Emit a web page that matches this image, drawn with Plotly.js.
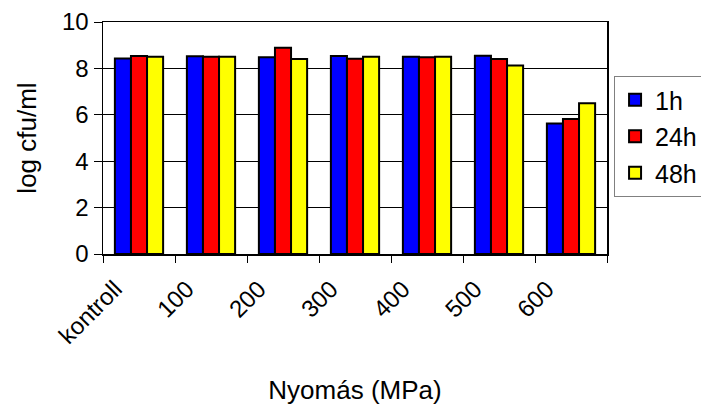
<!DOCTYPE html>
<html>
<head>
<meta charset="utf-8">
<script src="https://cdn.plot.ly/plotly-3.0.1.min.js"></script>
<style>html,body{margin:0;padding:0;background:#fff;}#chart{width:701px;height:405px;}</style>
</head>
<body>
<div id="chart"></div>
<script>
const categories = ["kontroll", "100", "200", "300", "400", "500", "600"];
const seriesNames = ["1h", "24h", "48h"];
const values1h  = [8.43, 8.52, 8.48, 8.53, 8.50, 8.55, 5.62];
const values24h = [8.53, 8.50, 8.89, 8.42, 8.48, 8.40, 5.82];
const values48h = [8.50, 8.50, 8.40, 8.50, 8.50, 8.12, 6.50];
const yTicks = [0, 2, 4, 6, 8, 10];
const colors = ["#0000FF", "#FF0000", "#FFFF00"];

const allValues = [values1h, values24h, values48h];
const FONT = "Arial, 'Liberation Sans', sans-serif";

const traces = allValues.map((vals, i) => ({
  type: "bar",
  name: seriesNames[i],
  x: categories,
  y: vals,
  legendgroup: "g" + i,
  marker: { color: colors[i], line: { color: "#000", width: 2 } },
  hoverinfo: "skip"
}));

const layout = {
  width: 701,
  height: 405,
  margin: { l: 103, r: 94, t: 22, b: 151, autoexpand: false },
  paper_bgcolor: "#fff",
  plot_bgcolor: "#fff",
  font: { family: FONT, size: 24, color: "#000" },
  barmode: "group",
  bargap: 0.33,
  bargroupgap: 0,
  showlegend: true,
  legend: {
    x: 1.014, y: 0.767, xanchor: "left", yanchor: "top",
    bordercolor: "#808080", borderwidth: 1,
    font: { family: FONT, size: 25, color: "#000" },
    traceorder: "grouped",
    tracegroupgap: 1,
    itemwidth: 30
  },
  xaxis: {
    type: "category",
    tickson: "boundaries",
    ticks: "outside",
    ticklen: 7,
    tickwidth: 1,
    tickcolor: "#000",
    tickangle: -45,
    ticklabelshift: -24,
    ticklabelstandoff: 10,
    showline: true,
    linecolor: "#000",
    linewidth: 1.5,
    mirror: true,
    showgrid: false,
    tickfont: { family: FONT, size: 24, color: "#000" },
    title: { text: "Nyomás (MPa)", font: { family: FONT, size: 26, color: "#000" }, standoff: 40 }
  },
  yaxis: {
    range: [0, 10],
    tickvals: yTicks,
    ticktext: yTicks.map(String),
    ticks: "outside",
    ticklen: 8,
    tickwidth: 1,
    tickcolor: "#000",
    showline: true,
    linecolor: "#000",
    linewidth: 1.5,
    mirror: true,
    showgrid: true,
    gridcolor: "#000",
    gridwidth: 1,
    zeroline: false,
    tickfont: { family: FONT, size: 24, color: "#000" },
    title: { text: "log cfu/ml", font: { family: FONT, size: 26, color: "#000" }, standoff: 18 }
  }
};

Plotly.newPlot("chart", traces, layout, { displayModeBar: false, staticPlot: true });
</script>
</body>
</html>
